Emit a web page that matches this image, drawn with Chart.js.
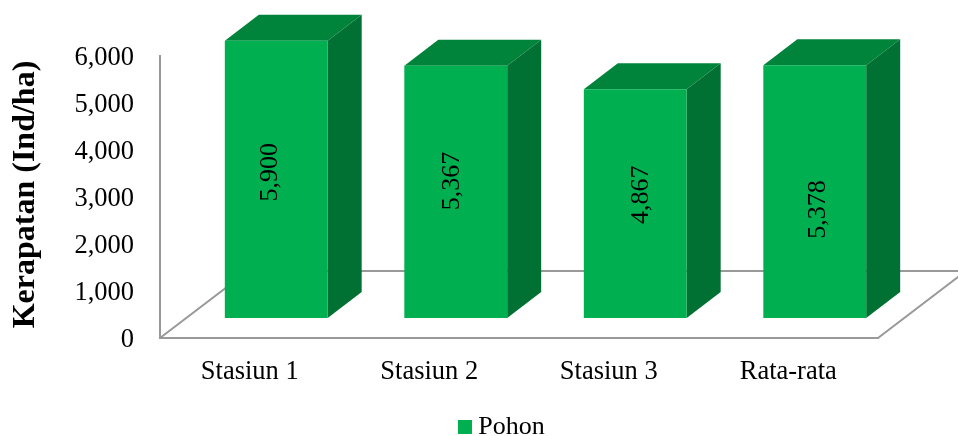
<!DOCTYPE html>
<html>
<head>
<meta charset="utf-8">
<style>
    html, body { margin: 0; padding: 0; background: #fff; }
    #chart1 { display: block; }
</style>
<script src="https://cdn.jsdelivr.net/npm/chart.js@4/dist/chart.umd.min.js"></script>
</head>
<body>
<canvas id="chart1" width="958" height="436"></canvas>
<script>
const categories = ["Stasiun 1", "Stasiun 2", "Stasiun 3", "Rata-rata"];
const pohonValues = [5900, 5367, 4867, 5378];
const seriesName = "Pohon";
const yTicks = [0, 1000, 2000, 3000, 4000, 5000, 6000];

const serif = "'Liberation Serif', 'Times New Roman', serif";
const frontColor = "#00B050";
const topColor = "#00843C";
const sideColor = "#007033";
const axisColor = "#999999";

// oblique projection: bars stand forward of the axes, depth runs up and to the right
const barShift = { x: 26.5, y: -20 };
const barDepth = { x: 34, y: -26 };
const floorDepth = { x: 88, y: -67 };
// hand nudges of the value labels inside each bar
const labelNudge = [{ x: -6, y: -7 }, { x: -4, y: -11 }, { x: 6, y: -9 }, { x: 3, y: 18 }];

const formatNumber = v => v.toLocaleString("en-US");

// legend swatch as a canvas so the text can sit close to the square
const legendSwatch = document.createElement("canvas");
legendSwatch.width = 14;
legendSwatch.height = 14;
legendSwatch.getContext("2d").fillStyle = frontColor;
legendSwatch.getContext("2d").fillRect(0, 0, 14, 14);

const polygon = (ctx, points, color) => {
    ctx.fillStyle = color;
    ctx.beginPath();
    points.forEach((p, i) => i ? ctx.lineTo(p[0], p[1]) : ctx.moveTo(p[0], p[1]));
    ctx.closePath();
    ctx.fill();
};

const box3d = {
    id: "box3d",
    afterLayout: chart => {
        // legend sits centred under the plot, not under the canvas
        chart.legend.left = 52;
        chart.legend.right = 958;
        chart.legend.top += 14;
        chart.legend.bottom += 14;

        // axis title sits a little above the middle of the axis
        const yScale = chart.scales.y;
        const drawTitle = yScale.drawTitle;
        yScale.drawTitle = () => {
            chart.ctx.save();
            chart.ctx.translate(0, -2.5);
            drawTitle.call(yScale);
            chart.ctx.restore();
        };
    },
    beforeDatasetsDraw: chart => {
        const ctx = chart.ctx;
        const area = chart.chartArea;

        // floor outline
        ctx.save();
        ctx.strokeStyle = axisColor;
        ctx.lineWidth = 2;
        ctx.beginPath();
        ctx.moveTo(area.left, area.bottom);
        ctx.lineTo(area.left + floorDepth.x, area.bottom + floorDepth.y);
        ctx.lineTo(area.right + floorDepth.x, area.bottom + floorDepth.y);
        ctx.lineTo(area.right, area.bottom);
        ctx.stroke();
        ctx.restore();

        ctx.save();
        ctx.translate(barShift.x, barShift.y);
        chart.getDatasetMeta(0).data.forEach(bar => {
            const left = bar.x - bar.width / 2;
            const right = bar.x + bar.width / 2;
            const dx = barDepth.x;
            const dy = barDepth.y;
            polygon(ctx, [[left, bar.y], [left + dx, bar.y + dy], [right + dx, bar.y + dy], [right, bar.y]], topColor);
            polygon(ctx, [[right, bar.y], [right + dx, bar.y + dy], [right + dx, bar.base + dy], [right, bar.base]], sideColor);
        });
    },
    afterDatasetsDraw: chart => {
        const ctx = chart.ctx;
        chart.getDatasetMeta(0).data.forEach((bar, i) => {
            ctx.save();
            ctx.translate(bar.x + labelNudge[i].x, (bar.y + bar.base) / 2 + labelNudge[i].y);
            ctx.rotate(-Math.PI / 2);
            ctx.fillStyle = "#000";
            ctx.font = "26px " + serif;
            ctx.textAlign = "center";
            ctx.textBaseline = "middle";
            ctx.fillText(formatNumber(pohonValues[i]), 0, 0);
            ctx.restore();
        });
        ctx.restore();
    }
};

let ctx = document.getElementById("chart1").getContext("2d");
let chart = new Chart(ctx, {
    type: "bar",
    data: {
        labels: categories,
        datasets: [{
            label: seriesName,
            data: pohonValues,
            backgroundColor: frontColor,
            barPercentage: 0.573,
            categoryPercentage: 1,
            clip: false
        }]
    },
    options: {
        responsive: false,
        animation: false,
        events: [],
        layout: { padding: { top: 56, right: 80, left: 0, bottom: 0 } },
        plugins: {
            tooltip: { enabled: false },
            legend: {
                position: "bottom",
                labels: {
                    usePointStyle: true,
                    pointStyle: legendSwatch,
                    pointStyleWidth: 0.01,
                    padding: 5,
                    color: "#000",
                    font: { family: serif, size: 26 }
                }
            }
        },
        scales: {
            x: {
                grid: { display: false },
                border: { color: axisColor, width: 2 },
                ticks: { color: "#000", font: { family: serif, size: 26.5 }, padding: 10, maxRotation: 0 },
                afterFit: scale => { scale.height = 436 - 338 - scale.chart.legend.height; }
            },
            y: {
                min: 0,
                max: 6000,
                grid: { display: false },
                border: { color: axisColor, width: 2 },
                ticks: {
                    color: "#000",
                    font: { family: serif, size: 26.5 },
                    padding: 18,
                    labelOffset: 2,
                    callback: v => formatNumber(v)
                },
                afterBuildTicks: scale => { scale.ticks = yTicks.map(value => ({ value })); },
                afterFit: scale => { scale.width = 160; },
                title: {
                    display: true,
                    text: "Kerapatan (Ind/ha)",
                    color: "#000",
                    font: { family: serif, size: 32, weight: "bold" },
                    padding: { top: 7, bottom: 0 }
                }
            }
        }
    },
    plugins: [box3d]
});
</script>
</body>
</html>
